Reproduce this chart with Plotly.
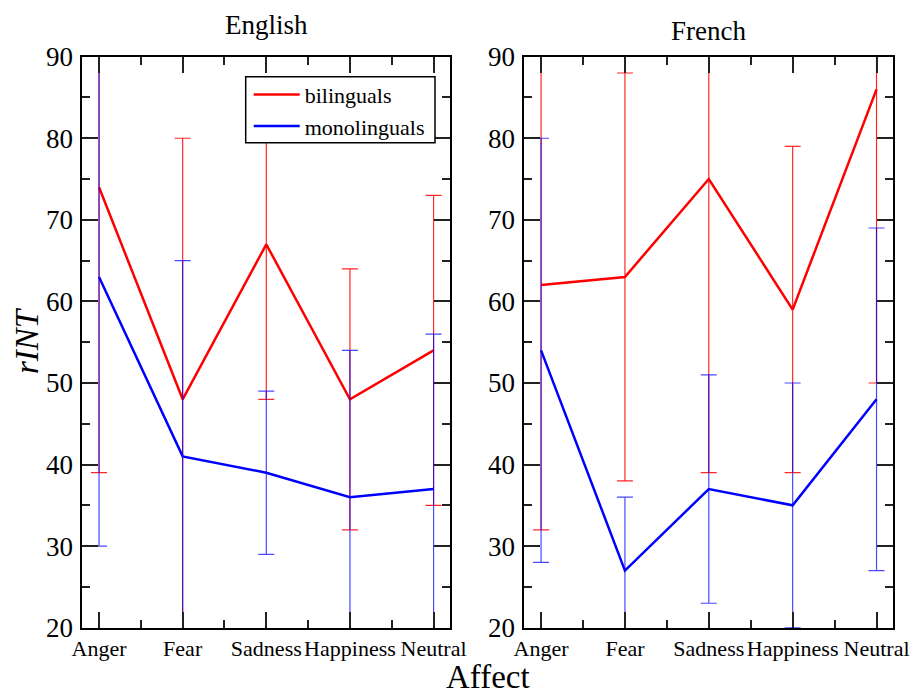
import plotly.graph_objects as go

categories = ["Anger", "Fear", "Sadness", "Happiness", "Neutral"]
x_pos = [0, 1, 2, 3, 4]

eng_bi = [74, 48, 67, 48, 54]
eng_bi_err = [35, 32, 19, 16, 19]
eng_mono = [63, 41, 39, 36, 37]
eng_mono_err = [33, 24, 10, 18, 19]

fr_bi = [62, 63, 75, 59, 86]
fr_bi_err = [30, 25, 36, 20, 36]
fr_mono = [54, 27, 37, 35, 48]
fr_mono_err = [26, 9, 14, 15, 21]

y_ticks = [20, 30, 40, 50, 60, 70, 80, 90]

FONT = "Liberation Serif"
W, H = 914, 696

RED = "#ff0000"
BLUE = "#0000ff"
RED_ERR = "rgba(255,0,0,0.85)"
BLUE_ERR = "rgba(0,0,255,0.72)"


def trace(y, err, color, ecolor, name, xa, ya, show):
    return go.Scatter(
        x=x_pos, y=y, mode="lines", name=name,
        line=dict(color=color, width=2.5),
        error_y=dict(type="data", array=err, visible=True, color=ecolor,
                     thickness=1.2, width=8),
        xaxis=xa, yaxis=ya, showlegend=show,
    )


fig = go.Figure()
fig.add_trace(trace(eng_bi, eng_bi_err, RED, RED_ERR, "bilinguals", "x", "y", True))
fig.add_trace(trace(eng_mono, eng_mono_err, BLUE, BLUE_ERR, "monolinguals", "x", "y", True))
fig.add_trace(trace(fr_bi, fr_bi_err, RED, RED_ERR, "bilinguals", "x2", "y2", False))
fig.add_trace(trace(fr_mono, fr_mono_err, BLUE, BLUE_ERR, "monolinguals", "x2", "y2", False))

left_px = (82.3, 450.3)
right_px = (524.3, 893.3)
top_px, bot_px = 56.7, 627.7

xdom1 = [left_px[0] / W, left_px[1] / W]
xdom2 = [right_px[0] / W, right_px[1] / W]
ydom = [1 - bot_px / H, 1 - top_px / H]

def xaxis(domain, anchor):
    return dict(
        domain=domain, anchor=anchor, range=[-0.2, 4.2],
        tickvals=x_pos, ticktext=categories,
        ticks="inside", ticklen=16, tickwidth=1.5, tickcolor="#222",
        minor=dict(dtick=0.5, tick0=0, ticks="inside", ticklen=8, tickwidth=1.5, tickcolor="#222"),
        showline=True, linecolor="black", linewidth=2, mirror="ticks",
        showgrid=False, zeroline=False,
        tickfont=dict(family=FONT, size=22, color="black"),
        ticklabelstandoff=0,
    )

def yaxis(anchor):
    return dict(
        domain=ydom, anchor=anchor, range=[20, 90],
        tickvals=y_ticks,
        ticks="inside", ticklen=16, tickwidth=1.5, tickcolor="#222",
        minor=dict(dtick=5, tick0=0, ticks="inside", ticklen=8, tickwidth=1.5, tickcolor="#222"),
        showline=True, linecolor="black", linewidth=2, mirror="ticks",
        showgrid=False, zeroline=False,
        tickfont=dict(family=FONT, size=27, color="black"),
        ticklabelstandoff=2,
    )

# legend frame (drawn as a shape so its size matches the reference)
leg_box = (245.7, 76.7, 435.0, 142.7)

fig.update_layout(
    width=W, height=H,
    margin=dict(l=0, r=0, t=0, b=0, autoexpand=False),
    paper_bgcolor="white", plot_bgcolor="white",
    xaxis=xaxis(xdom1, "y"),
    yaxis=yaxis("x"),
    xaxis2=xaxis(xdom2, "y2"),
    yaxis2=yaxis("x2"),
    legend=dict(
        x=248.7 / W, y=1 - 73.7 / H, xanchor="left", yanchor="top",
        bgcolor="rgba(0,0,0,0)", borderwidth=0,
        font=dict(family=FONT, size=22, color="black"),
        itemwidth=46,
    ),
    showlegend=True,
    shapes=[
        dict(type="rect", xref="paper", yref="paper",
             x0=leg_box[0] / W, x1=leg_box[2] / W,
             y0=1 - leg_box[3] / H, y1=1 - leg_box[1] / H,
             fillcolor="white", line=dict(color="black", width=1.5), layer="above"),
    ],
    annotations=[
        dict(text="English", x=266.3 / W, y=1 - 25 / H, xref="paper", yref="paper",
             showarrow=False, xanchor="center", yanchor="middle",
             font=dict(family=FONT, size=27, color="black")),
        dict(text="French", x=708.8 / W, y=1 - 31 / H, xref="paper", yref="paper",
             showarrow=False, xanchor="center", yanchor="middle",
             font=dict(family=FONT, size=27, color="black")),
        dict(text="Affect", x=488 / W, y=1 - 677 / H, xref="paper", yref="paper",
             showarrow=False, xanchor="center", yanchor="middle",
             font=dict(family=FONT, size=33, color="black")),
        dict(text="<i>rINT</i>", x=27 / W, y=1 - 341 / H, xref="paper", yref="paper",
             showarrow=False, xanchor="center", yanchor="middle", textangle=-90,
             font=dict(family=FONT, size=33, color="black")),
    ],
)

fig.write_html("out.html")
